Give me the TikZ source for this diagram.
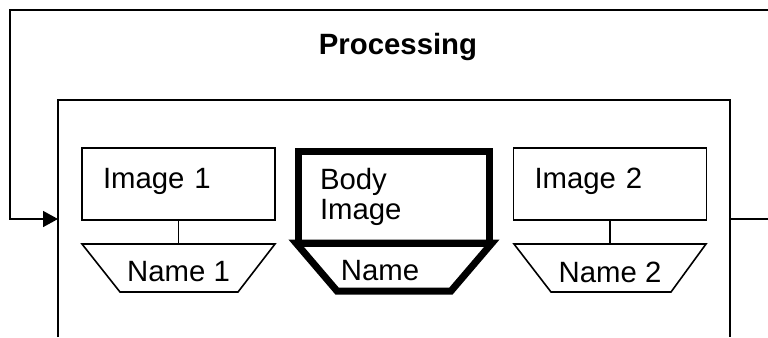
\documentclass[tikz,border=0pt]{standalone}
\usepackage{fontspec}
\setmainfont{Liberation Sans}
\usetikzlibrary{positioning, arrows.meta}

\tikzset{
  thinline/.style={line width=1.2pt},
  thickline/.style={line width=5.25pt, line join=miter},
  imgbox/.style={draw, thinline, rectangle, minimum width=144.75pt, minimum height=54pt,
    inner xsep=15.75pt, text width=113.25pt, text depth=9pt, align=left, outer sep=0pt},
  bodybox/.style={draw, thickline, rectangle, minimum width=143.25pt, minimum height=69pt,
    inner xsep=16.5pt, text width=110.25pt, align=left, outer sep=0pt},
  title/.style={font=\fontsize{22}{23}\selectfont\bfseries}
}

\begin{document}
\begin{tikzpicture}[x=0.75pt, y=-0.75pt, font=\fontsize{22}{23}\selectfont]

\useasboundingbox (0,0) rectangle (768,337);

% ---------- FRAME ----------

\coordinate (fnw) at (58,100);
\coordinate (fne) at (730,100);
\coordinate (fsw) at (58,337);
\coordinate (fse) at (730,337);
\coordinate (fin) at (58,219);
\coordinate (fout) at (730,219);
\coordinate (outend) at (768,219);
\coordinate (loopend) at (768,10);
\coordinate (loopcorner) at (10,10);

\draw[thinline] (fsw) -- (fnw) -- (fne) -- (fse);
\draw[thinline] (fout) -- (outend);
\draw[thinline, -{Triangle[length=11.25pt, width=12pt]}] (loopend) -- (loopcorner) |- (fin);

\node[title] (proc) at (398,47) {Processing};

% ---------- IMAGE 1 ----------

\node[imgbox] (img1) at (178.5,184) {Image 1};
\draw[thinline] (82,244) -- (275,244) -- (238,292) -- (120,292) -- cycle;
\coordinate (name1top) at (178.5,244);
\node (name1) at (178.5,272) {Name 1};
\draw[thinline] (img1) -- (name1top);

% ---------- BODY IMAGE ----------

\node[bodybox] (body) at (393.5,197) {Body\\Image};
\draw[thickline] (296,243) -- (492,243) -- (451,291) -- (337,291) -- cycle;
\node (bodyname) at (380,271) {Name};

% ---------- IMAGE 2 ----------

\node[imgbox] (img2) at (610,184) {Image 2};
\draw[thinline] (514,244) -- (706,244) -- (671,292) -- (551,292) -- cycle;
\coordinate (name2top) at (610,244);
\node (name2) at (610,272) {Name 2};
\draw[thinline] (img2) -- (name2top);

\end{tikzpicture}
\end{document}
